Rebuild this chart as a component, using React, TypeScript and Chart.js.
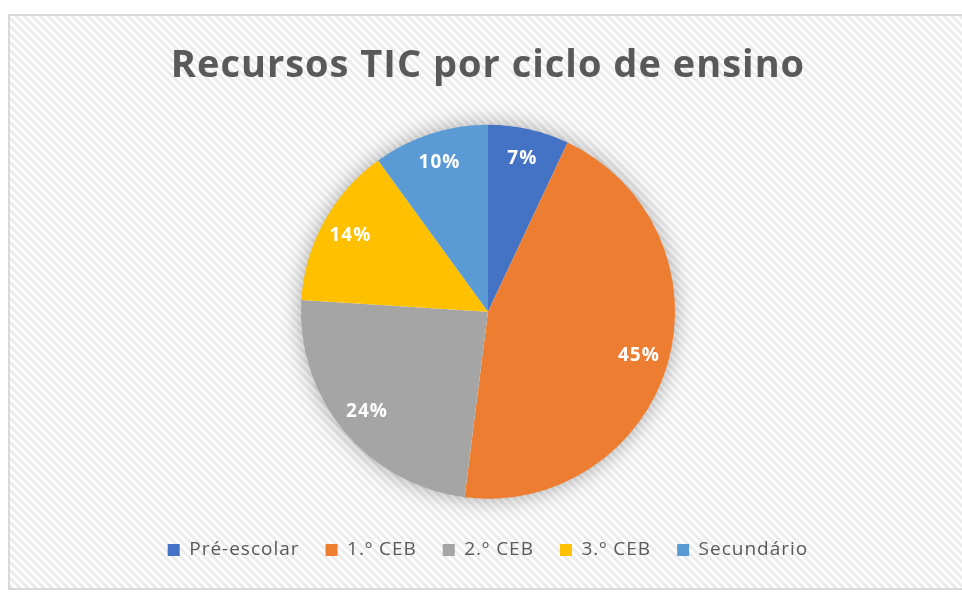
import { useEffect, useRef } from "react";
import { Chart, registerables } from "chart.js";
Chart.register(...registerables);

const titleText = "Recursos TIC por ciclo de ensino";
const categories = ["Pré-escolar", "1.º CEB", "2.º CEB", "3.º CEB", "Secundário"];
const values = [7, 45, 24, 14, 10];
const colors = ["#4472C4", "#ED7D31", "#A5A5A5", "#FFC000", "#5B9BD5"];

const LETTER_SPACING = "1px";

function makePattern(ctx: CanvasRenderingContext2D) {
  const p = 8;
  const c = document.createElement("canvas");
  c.width = p;
  c.height = p;
  const g = c.getContext("2d")!;
  g.fillStyle = "#ffffff";
  g.fillRect(0, 0, p, p);
  g.strokeStyle = "#ebebeb";
  g.lineWidth = 3;
  for (let k = -1; k <= 1; k++) {
    g.beginPath();
    g.moveTo(-1, k * p - 1);
    g.lineTo(p + 1, k * p + p + 1);
    g.stroke();
  }
  return ctx.createPattern(c, "repeat")!;
}

const spacingPlugin = {
  id: "letterSpacing",
  beforeUpdate(chart: any) {
    (chart.ctx as any).letterSpacing = LETTER_SPACING;
  },
  beforeDraw(chart: any) {
    (chart.ctx as any).letterSpacing = LETTER_SPACING;
  },
};

const backgroundPlugin = {
  id: "bgHatch",
  beforeDraw(chart: any) {
    const ctx = chart.ctx as CanvasRenderingContext2D;
    ctx.save();
    ctx.fillStyle = "#ffffff";
    ctx.fillRect(0, 0, chart.width, chart.height);
    ctx.fillStyle = makePattern(ctx);
    ctx.fillRect(9, 15, chart.width - 9, 574);
    ctx.strokeStyle = "#d9d9d9";
    ctx.lineWidth = 2;
    ctx.strokeRect(9, 15, chart.width + 10, 574);
    ctx.restore();
  },
};

const shadowPlugin = {
  id: "pieShadow",
  beforeDatasetsDraw(chart: any) {
    const meta = chart.getDatasetMeta(0);
    const arc = meta.data[0];
    if (!arc) return;
    const { x, y, outerRadius } = arc.getProps(["x", "y", "outerRadius"], true);
    const ctx = chart.ctx as CanvasRenderingContext2D;
    ctx.save();
    ctx.shadowColor = "rgba(0,0,0,0.35)";
    ctx.shadowBlur = 22;
    ctx.fillStyle = "#ffffff";
    ctx.beginPath();
    ctx.arc(x, y, outerRadius - 1, 0, Math.PI * 2);
    ctx.fill();
    ctx.restore();
  },
};

const labelPlugin = {
  id: "pctLabels",
  afterDatasetsDraw(chart: any) {
    const ctx = chart.ctx as CanvasRenderingContext2D;
    const meta = chart.getDatasetMeta(0);
    const data = chart.data.datasets[0].data as number[];
    const total = data.reduce((a, b) => a + b, 0);
    ctx.save();
    ctx.fillStyle = "#ffffff";
    ctx.font = "bold 19px 'Open Sans', sans-serif";
    ctx.textAlign = "center";
    ctx.textBaseline = "middle";
    meta.data.forEach((el: any, i: number) => {
      const { x, y, startAngle, endAngle, outerRadius } = el.getProps(
        ["x", "y", "startAngle", "endAngle", "outerRadius"],
        true
      );
      const a = (startAngle + endAngle) / 2;
      const r = outerRadius * 0.84;
      const pct = Math.round((data[i] / total) * 100) + "%";
      ctx.fillText(pct, x + Math.cos(a) * r, y + Math.sin(a) * r);
    });
    ctx.restore();
  },
};

export default function App() {
  const ref = useRef<HTMLCanvasElement>(null);
  useEffect(() => {
    if (!ref.current) return;
    const chart = new Chart(ref.current, {
      type: "pie",
      data: {
        labels: categories,
        datasets: [
          {
            data: values,
            backgroundColor: colors,
            borderWidth: 0,
            radius: 187,
          },
        ],
      },
      options: {
        animation: false,
        responsive: true,
        maintainAspectRatio: false,
        layout: { padding: { left: 14, right: 0, top: 0, bottom: 22.5 } },
        plugins: {
          title: {
            display: true,
            text: titleText,
            color: "#595959",
            font: { family: "'Open Sans', sans-serif", size: 38, weight: "bold", lineHeight: 1.2 },
            padding: { top: 43.7, bottom: 19.7 },
          },
          legend: {
            display: true,
            position: "bottom",
            labels: {
              color: "#595959",
              font: { family: "'Open Sans', sans-serif", size: 19 },
              boxWidth: 12,
              boxHeight: 12,
              padding: 26,
            },
          },
          tooltip: { enabled: false },
        },
      },
      plugins: [spacingPlugin, backgroundPlugin, shadowPlugin, labelPlugin],
    });
    return () => chart.destroy();
  }, []);
  return (
    <div style={{ position: "absolute", left: 0, top: 0, width: 962, height: 592 }}>
      <canvas ref={ref} />
    </div>
  );
}
